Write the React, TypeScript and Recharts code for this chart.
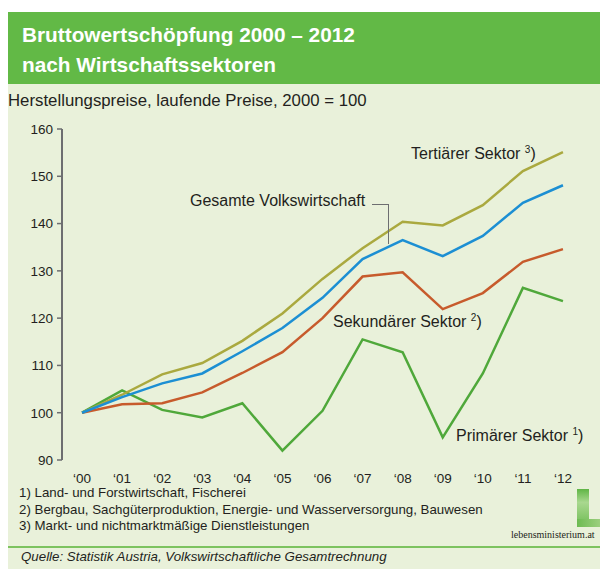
import React from 'react';
import { LineChart, Line, XAxis, YAxis } from 'recharts';

const years = ["‘00", "‘01", "‘02", "‘03", "‘04", "‘05", "‘06", "‘07", "‘08", "‘09", "‘10", "‘11", "‘12"];
const tertiaer = [100, 103.8, 108.1, 110.5, 115.2, 121, 128.3, 134.8, 140.4, 139.6, 143.9, 151.1, 155.1];
const gesamt = [100, 103.3, 106.2, 108.3, 113, 117.9, 124.3, 132.5, 136.5, 133.1, 137.4, 144.4, 148.1];
const sekundaer = [100, 101.8, 102, 104.3, 108.4, 112.8, 120, 128.8, 129.7, 121.9, 125.3, 131.9, 134.6];
const primaer = [100, 104.7, 100.6, 99, 102, 92, 100.4, 115.5, 112.8, 94.8, 108.3, 126.4, 123.6];
const yTicks = [90, 100, 110, 120, 130, 140, 150, 160];
const footnotes = [
  '1) Land- und Forstwirtschaft, Fischerei',
  '2) Bergbau, Sachgüterproduktion, Energie- und Wasserversorgung, Bauwesen',
  '3) Markt- und nichtmarktmäßige Dienstleistungen',
];

const chartData = years.map((y, i) => ({
  i,
  year: y,
  tertiaer: tertiaer[i],
  gesamt: gesamt[i],
  sekundaer: sekundaer[i],
  primaer: primaer[i],
}));

const labelIdx = years.map((_, i) => i);
const boundaryIdx = [...years.map((_, i) => i - 0.5), years.length - 0.5];

const font = '"Liberation Sans", Arial, sans-serif';
const textColor = '#231f20';
const axisColor = '#6d6e70';

export default function App() {
  return (
    <div style={{ position: 'absolute', left: 0, top: 0, width: 600, height: 569, background: '#fff', fontFamily: font, overflow: 'hidden' }}>
      {/* light panel */}
      <div style={{ position: 'absolute', left: 8, top: 84, width: 592, height: 485, background: '#e9f1da' }} />
      {/* header */}
      <div style={{ position: 'absolute', left: 8, top: 12, width: 592, height: 72, background: '#62b946' }} />
      <div style={{ position: 'absolute', left: 22, top: 20, color: '#fff', fontWeight: 'bold', fontSize: 20.8, lineHeight: '30px' }}>
        Bruttowertschöpfung 2000 – 2012<br />nach Wirtschaftssektoren
      </div>
      <div style={{ position: 'absolute', left: 8, top: 91, color: textColor, fontSize: 16.8 }}>
        Herstellungspreise, laufende Preise, 2000 = 100
      </div>

      <div style={{ position: 'absolute', left: 0, top: 0 }}>
        <LineChart width={600} height={569} data={chartData} margin={{ top: 129, left: 22, right: 17, bottom: 79 }}>
          <XAxis
            xAxisId="ticks"
            dataKey="i"
            type="number"
            domain={[-0.5, years.length - 0.5]}
            ticks={boundaryIdx}
            tick={false}
            tickSize={6}
            height={0}
            stroke={axisColor}
            strokeWidth={2}
            axisLine={{ stroke: axisColor, strokeWidth: 2 }}
            tickLine={{ stroke: axisColor, strokeWidth: 1.5 }}
          />
          <XAxis
            xAxisId="labels"
            dataKey="i"
            type="number"
            domain={[-0.5, years.length - 0.5]}
            ticks={labelIdx}
            tickFormatter={(v: number) => years[v]}
            axisLine={false}
            tickLine={false}
            tickSize={0}
            tickMargin={13}
            height={30}
            tick={{ fill: textColor, fontSize: 13.5, fontFamily: font }}
          />
          <YAxis
            domain={[90, 160]}
            ticks={yTicks}
            width={40}
            tickSize={5}
            tickMargin={4}
            axisLine={{ stroke: axisColor, strokeWidth: 2 }}
            tickLine={{ stroke: axisColor, strokeWidth: 1.5 }}
            tick={{ fill: textColor, fontSize: 13.5, fontFamily: font }}
          />
          <Line xAxisId="ticks" dataKey="primaer" stroke="#4fa83a" strokeWidth={2.5} dot={false} isAnimationActive={false} />
          <Line xAxisId="ticks" dataKey="sekundaer" stroke="#c75b2c" strokeWidth={2.5} dot={false} isAnimationActive={false} />
          <Line xAxisId="ticks" dataKey="tertiaer" stroke="#aaa93f" strokeWidth={2.5} dot={false} isAnimationActive={false} />
          <Line xAxisId="ticks" dataKey="gesamt" stroke="#1c8fd3" strokeWidth={2.5} dot={false} isAnimationActive={false} />
        </LineChart>
      </div>

      {/* series labels */}
      <div style={{ position: 'absolute', left: 411, top: 144, fontSize: 16, color: textColor }}>
        Tertiärer Sektor <sup style={{ fontSize: 10 }}>3</sup>)
      </div>
      <div style={{ position: 'absolute', left: 190, top: 192, fontSize: 16, color: textColor }}>
        Gesamte Volkswirtschaft
      </div>
      <div style={{ position: 'absolute', left: 372, top: 204, width: 16, height: 39, borderTop: `1.5px solid ${axisColor}`, borderRight: `1.5px solid ${axisColor}` }} />
      <div style={{ position: 'absolute', left: 333, top: 312, fontSize: 16, color: textColor }}>
        Sekundärer Sektor <sup style={{ fontSize: 10 }}>2</sup>)
      </div>
      <div style={{ position: 'absolute', left: 456, top: 426, fontSize: 16, color: textColor }}>
        Primärer Sektor <sup style={{ fontSize: 10 }}>1</sup>)
      </div>

      {/* footnotes */}
      {footnotes.map((f, k) => (
        <div key={k} style={{ position: 'absolute', left: 19, top: 485 + k * 16.5, fontSize: 13.3, color: textColor }}>
          {f}
        </div>
      ))}

      {/* logo */}
      <div style={{ position: 'absolute', left: 577, top: 489, width: 12, height: 38, background: 'linear-gradient(180deg, #5fb545, #a9d88f 35%, #6dbb52)' }} />
      <div style={{ position: 'absolute', left: 577, top: 519, width: 23, height: 8, background: 'linear-gradient(90deg, #6dbb52, #9ccf7f)' }} />
      <div style={{ position: 'absolute', left: 511, top: 529, fontSize: 10, fontFamily: '"Liberation Serif", "DejaVu Serif", serif', color: textColor }}>
        lebensministerium.at
      </div>

      {/* source */}
      <div style={{ position: 'absolute', left: 8, top: 546, width: 592, height: 2, background: '#7dc35f' }} />
      <div style={{ position: 'absolute', left: 21, top: 549, fontSize: 13.3, fontStyle: 'italic', color: textColor }}>
        Quelle: Statistik Austria, Volkswirtschaftliche Gesamtrechnung
      </div>
    </div>
  );
}
